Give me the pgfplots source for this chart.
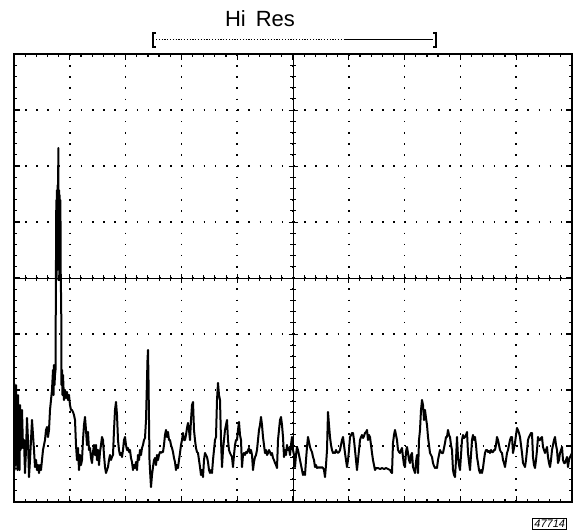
\documentclass[border=0pt]{standalone}
\usepackage{pgfplots}
\pgfplotsset{compat=1.18}
\usepackage{fontspec}
\setmainfont{Liberation Sans}
\begin{document}
\begin{tikzpicture}
\useasboundingbox (0,0) rectangle (286.5pt,265.5pt);
\begin{axis}[at={(7pt,14.5pt)}, anchor=south west, scale only axis,
  width=279pt, height=224pt,
  xmin=14, xmax=572, ymin=54, ymax=502, y dir=reverse,
  xtick={14,69.8,125.6,181.4,237.2,293,348.8,404.6,460.4,516.2,572},
  ytick={54,110,166,222,278,334,390,446,502},
  xticklabels={}, yticklabels={},
  minor tick num=4, tick align=inside,
  major tick length=3pt, minor tick length=1.6pt,
  tick style={black, line width=0.6pt},
  grid=major,
  major grid style={black, line width=0.75pt, dash pattern=on 0.75pt off 4.83pt},
  axis line style={line width=1.2pt}]
\addplot[black, line width=1pt, line join=round] coordinates {
(14,383) (14.5,470) (15,390) (15.5,465) (16,385) (16.5,460) (17,400) (17.5,470) (18,395) (18.5,455)
(19,410) (19.5,470) (20,405) (20.5,450) (21,420) (21.5,448) (22,410) (23,448) (24,440) (25,473)
(26,450) (27,418) (28,440) (29,477) (30,460) (31,440) (32,420) (33,435) (34,450) (35,467)
(36,460) (37,470) (38,465) (39,473) (40,465) (41,470) (42,460) (43,450) (44,445) (45,440)
(46,430) (47,427) (48,437) (49,430) (50,410) (51,400) (52,390) (53,370) (53.5,395) (54,365)
(54.5,385) (55,375) (55.5,370) (56,260) (56.3,200) (56.6,280) (57,190) (57.3,270) (57.6,185) (58,250)
(58.3,148) (58.6,240) (59,190) (59.3,280) (59.6,195) (60,270) (60.4,200) (60.8,285) (61.2,300) (61.5,385)
(62,370) (62.5,395) (63,375) (64,400) (65,390) (66,398) (67,392) (68,400) (69,395) (70,405)
(71,410) (72,410) (73,412) (74,415) (75,420) (76,445) (77,460) (78,448) (79,470) (80,455)
(81,465) (82,460) (83,440) (84,425) (85,417) (86,430) (87,445) (88,432) (89,450) (90,448)
(91,458) (92,463) (93,452) (94,445) (95,455) (96,445) (97,460) (98,450) (99,465) (100,452)
(101,445) (102,437) (103,440) (104,455) (105,467) (106,473) (107,470) (108,467) (109,460) (110,455)
(111,460) (112,457) (113,455) (114,430) (115,410) (116,402) (117,415) (118,440) (119,450) (120,455)
(121,453) (122,457) (123,450) (124,440) (125,437) (126,445) (127,450) (128,448) (129,452) (130,450)
(131,458) (132,462) (133,470) (134,465) (135,468) (136,462) (137,470) (138,455) (139,460) (140,450)
(141,455) (142,448) (143,445) (144,440) (145,438) (146,420) (147,380) (147.5,360) (148,350) (148.5,380)
(149,420) (149.5,460) (150,470) (151,487) (152,475) (153,467) (154,460) (155,458) (156,465) (157,455)
(158,460) (159,455) (160,452) (161,453) (162,452) (163,452) (164,445) (165,435) (166,430) (167,437)
(168,432) (169,440) (170,440) (171,445) (172,448) (173,452) (174,458) (175,462) (176,470) (177,465)
(178,468) (179,460) (180,453) (181,445) (182,440) (183,433) (184,440) (185,440) (186,435) (187,428)
(188,423) (189,430) (190,440) (191,420) (192,405) (193,402) (194,430) (195,440) (196,448) (197,452)
(198,453) (199,460) (200,467) (201,475) (202,470) (203,477) (204,460) (205,453) (206,455) (207,457)
(208,462) (209,470) (210,473) (211,470) (212,473) (213,460) (214,450) (215,440) (216,437) (217,400)
(218,383) (219,395) (220,400) (221,440) (222,467) (223,450) (224,440) (225,430) (226,425) (227,420)
(228,440) (229,450) (230,453) (231,455) (232,457) (233,467) (234,455) (235,445) (236,440) (237,440)
(238,430) (239,422) (240,435) (241,440) (242,467) (243,455) (244,453) (245,455) (246,452) (247,453)
(248,450) (249,448) (250,453) (251,450) (252,455) (253,470) (254,462) (255,457) (256,455) (257,450)
(258,440) (259,430) (260,425) (261,417) (262,425) (263,437) (264,445) (265,453) (266,450) (267,455)
(268,453) (269,450) (270,452) (271,455) (272,453) (273,458) (274,460) (275,463) (276,465) (277,468)
(278,440) (279,430) (280,420) (281,417) (282,425) (283,437) (284,457) (285,450) (286,455) (287,445)
(288,450) (289,448) (290,455) (291,445) (292,437) (293,450) (294,455) (295,467) (296,455) (297,447)
(298,450) (299,455) (300,460) (301,465) (302,470) (303,475) (304,472) (305,475) (306,460) (307,447)
(308,437) (309,442) (310,447) (311,450) (312,452) (313,457) (314,460) (315,467) (316,465) (317,468)
(318,467) (319,468) (320,467) (321,468) (322,467) (323,468) (324,470) (325,477) (326,465) (327,450)
(328,412) (329,425) (330,437) (331,445) (332,450) (333,453) (334,452) (335,453) (336,450) (337,452)
(338,453) (339,452) (340,450) (341,445) (342,440) (343,437) (344,445) (345,453) (346,460) (347,467)
(348,460) (349,450) (350,437) (351,435) (352,433) (353,433) (354,440) (355,450) (356,460) (357,470)
(358,460) (359,450) (360,440) (361,437) (362,435) (363,438) (364,436) (365,433) (366,432) (367,430)
(368,440) (369,435) (370,437) (371,445) (372,453) (373,460) (374,465) (375,470) (376,468) (377,468)
(378,468) (380,469) (382,468) (384,469) (386,468) (388,469) (390,470) (391,472) (392,473) (393,443)
(394,435) (395,430) (396,435) (397,440) (398,450) (399,452) (400,453) (401,450) (402,448) (403,457)
(404,465) (405,467) (406,452) (407,447) (408,453) (409,460) (410,463) (411,455) (412,453) (413,467)
(414,470) (415,473) (416,462) (417,455) (418,473) (419,440) (420,430) (421,410) (422,400) (423,405)
(424,420) (425,410) (426,418) (427,425) (428,437) (429,445) (430,453) (431,455) (432,457) (433,463)
(434,466) (435,468) (436,467) (437,468) (438,460) (439,455) (440,450) (441,452) (442,453) (443,453)
(444,448) (445,443) (446,437) (447,437) (448,430) (449,435) (450,437) (451,445) (452,450) (453,470)
(454,475) (455,477) (456,460) (457,437) (458,457) (459,465) (460,470) (461,455) (462,440) (463,435)
(464,438) (465,437) (466,435) (467,432) (468,453) (469,462) (470,470) (471,455) (472,440) (473,435)
(474,440) (475,437) (476,445) (477,457) (478,463) (479,470) (480,473) (481,470) (482,473) (483,468)
(484,460) (485,453) (486,450) (487,450) (488,452) (489,451) (490,453) (491,450) (492,452) (493,452)
(494,450) (495,450) (496,445) (497,437) (498,440) (499,445) (500,450) (501,452) (502,453) (503,460)
(504,463) (505,467) (506,460) (507,453) (508,450) (509,445) (510,440) (511,437) (512,437) (513,453)
(514,448) (515,443) (516,435) (517,428) (518,430) (519,433) (520,437) (521,445) (522,453) (523,463)
(524,465) (525,467) (526,460) (527,450) (528,440) (529,437) (530,435) (531,433) (532,433) (533,457)
(534,465) (535,468) (536,460) (537,450) (538,437) (539,440) (540,440) (541,438) (542,437) (543,447)
(544,450) (545,453) (546,450) (547,447) (548,457) (549,463) (550,467) (551,460) (552,450) (553,445)
(554,440) (555,437) (556,445) (557,450) (558,463) (559,460) (560,453) (561,450) (562,447) (563,460)
(564,463) (565,463) (566,460) (567,457) (568,467) (569,460) (570,457) (571,455) (572,453)
};
\end{axis}
\begin{axis}[at={(7pt,14.5pt)}, anchor=south west, scale only axis,
  width=279pt, height=224pt,
  xmin=-5, xmax=5, ymin=-4, ymax=4,
  axis lines=middle, axis line style={-, line width=0.5pt},
  xtick={-5,...,5}, ytick={-4,...,4},
  xticklabels={}, yticklabels={},
  minor tick num=4, tick align=center,
  major tick length=4.5pt, minor tick length=3pt,
  tick style={black, line width=0.5pt}]
\end{axis}
\node[font=\fontsize{11}{13}\selectfont] at (130pt,256pt) {Hi\hspace{5pt}Res};
\draw[line width=1pt] (78pt,249pt) -- (76.5pt,249pt) -- (76.5pt,242pt) -- (78pt,242pt);
\draw[line width=1pt] (216.5pt,249pt) -- (218pt,249pt) -- (218pt,242pt) -- (216.5pt,242pt);
\draw[line width=0.5pt, dash pattern=on 0.6pt off 0.8pt] (78pt,245.5pt) -- (172pt,245.5pt);
\draw[line width=0.5pt] (172pt,245.5pt) -- (216.5pt,245.5pt);
\node[draw, line width=0.4pt, inner sep=0.8pt, font=\fontsize{5.5}{6}\selectfont\itshape, anchor=south east] at (283.5pt,0.6pt) {47714};
\end{tikzpicture}
\end{document}
